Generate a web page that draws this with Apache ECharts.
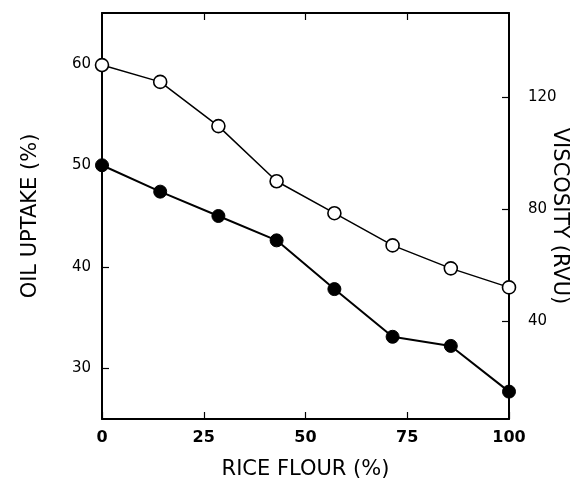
<!DOCTYPE html>
<html>
<head>
<meta charset="utf-8">
<script src="https://cdn.jsdelivr.net/npm/echarts@6/dist/echarts.min.js"></script>
<style>
html,body{margin:0;padding:0;background:#fff;}
#chart{width:579px;height:489px;}
</style>
</head>
<body>
<div id="chart"></div>
<script>
// Data
var riceFlour = [0, 14.3, 28.6, 42.9, 57.1, 71.4, 85.7, 100];
var oilUptake = [50.0, 47.4, 45.0, 42.6, 37.8, 33.1, 32.2, 27.7];
var viscosity = [131.4, 125.4, 109.6, 89.9, 78.5, 67.0, 58.8, 52.0];
var xTicks = [0, 25, 50, 75, 100];
var topTicks = [25, 50, 75];
var leftTicks = [30, 40, 50, 60];
var rightTicks = [40, 80, 120];

var chart = echarts.init(document.getElementById('chart'));
function pairs(xs, ys) { return xs.map(function (x, i) { return [x, ys[i]]; }); }

var titleFont = { fontFamily: 'DejaVu Sans', fontSize: 21, color: '#000' };
var lineSt = { color: '#000', width: 2 };
var tickSt = { color: '#000', width: 1.2 };

chart.setOption({
  animation: false,
  backgroundColor: '#fff',
  grid: { left: 102, right: 70, top: 13, bottom: 70, containLabel: false, outerBoundsMode: 'none' },
  xAxis: [{
    type: 'value', position: 'bottom', min: 0, max: 100,
    name: 'RICE FLOUR (%)', nameLocation: 'middle', nameGap: 40, nameMoveOverlap: false,
    nameTextStyle: titleFont,
    axisLine: { show: true, onZero: false, lineStyle: lineSt },
    axisTick: { show: true, inside: true, length: 7, customValues: xTicks, lineStyle: tickSt },
    axisLabel: { customValues: xTicks, fontFamily: 'DejaVu Sans', fontWeight: 'bold', fontSize: 16, color: '#000', margin: 11 },
    splitLine: { show: false }
  }, {
    type: 'value', position: 'top', min: 0, max: 100,
    axisLine: { show: true, onZero: false, lineStyle: lineSt },
    axisTick: { show: true, inside: true, length: 7, customValues: topTicks, lineStyle: tickSt },
    axisLabel: { show: false },
    splitLine: { show: false }
  }],
  yAxis: [{
    type: 'value', position: 'left', min: 25, max: 65,
    name: 'OIL UPTAKE (%)', nameLocation: 'middle', nameGap: 61, nameMoveOverlap: false,
    nameTextStyle: titleFont,
    axisLine: { show: true, onZero: false, lineStyle: lineSt },
    axisTick: { show: true, inside: true, length: 7, customValues: leftTicks, lineStyle: tickSt },
    axisLabel: { customValues: leftTicks, fontFamily: 'DejaVu Sans', fontSize: 15, color: '#000', margin: 11 },
    splitLine: { show: false }
  }, {
    type: 'value', position: 'right', min: 5, max: 150,
    name: 'VISCOSITY (RVU)', nameLocation: 'middle', nameGap: 40, nameRotate: -90, nameMoveOverlap: false,
    nameTextStyle: titleFont,
    axisLine: { show: true, onZero: false, lineStyle: lineSt },
    axisTick: { show: true, inside: true, length: 7, customValues: rightTicks, lineStyle: tickSt },
    axisLabel: { customValues: rightTicks, fontFamily: 'DejaVu Sans', fontSize: 15, color: '#000', margin: 19 },
    splitLine: { show: false }
  }],
  series: [{
    type: 'line', name: 'Viscosity', xAxisIndex: 0, yAxisIndex: 1,
    data: pairs(riceFlour, viscosity),
    symbol: 'circle', symbolSize: 13,
    lineStyle: { color: '#000', width: 1.5 },
    itemStyle: { color: '#fff', borderColor: '#000', borderWidth: 1.6 },
    z: 3
  }, {
    type: 'line', name: 'Oil uptake', xAxisIndex: 0, yAxisIndex: 0,
    data: pairs(riceFlour, oilUptake),
    symbol: 'circle', symbolSize: 13,
    lineStyle: { color: '#000', width: 2 },
    itemStyle: { color: '#000', borderColor: '#000', borderWidth: 1 },
    z: 3
  }]
});
</script>
</body>
</html>
